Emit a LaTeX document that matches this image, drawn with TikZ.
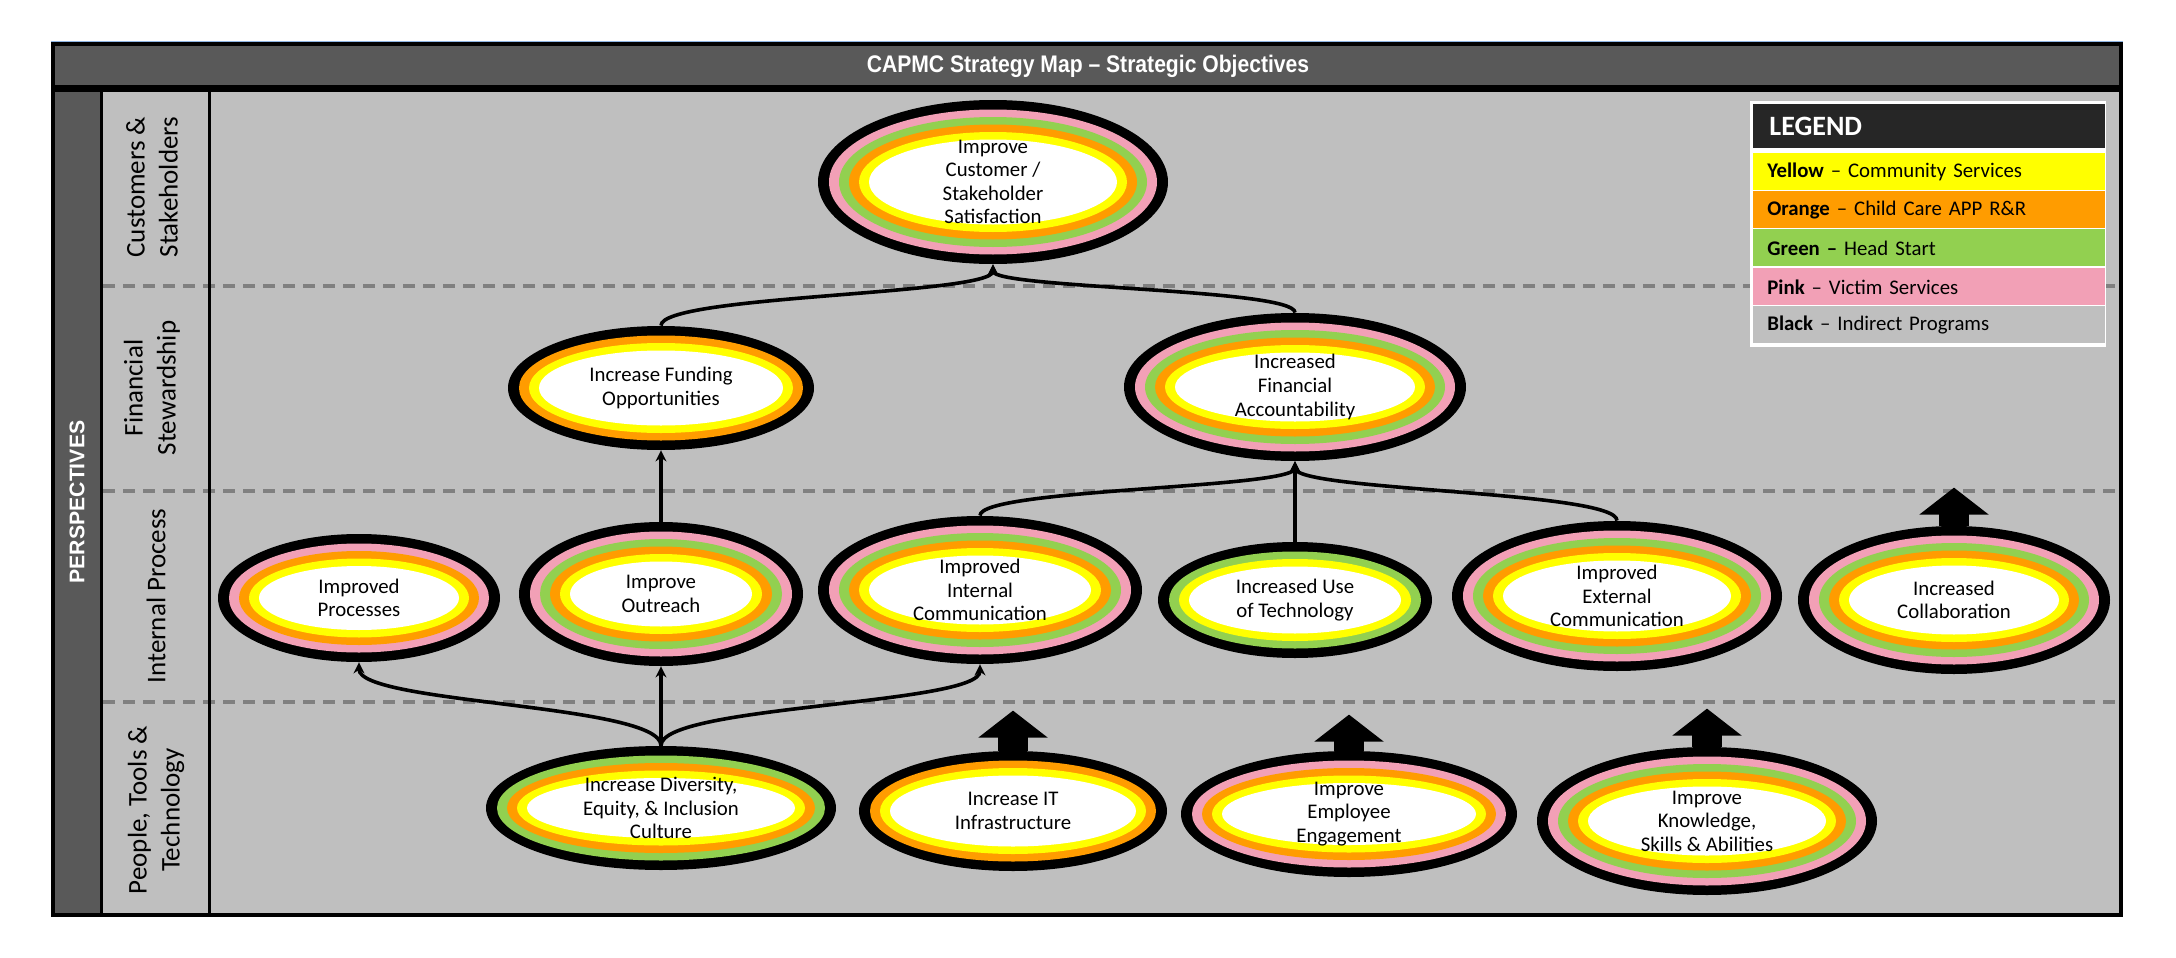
\documentclass[tikz,border=0pt]{standalone}
\usepackage{graphicx}
\usepackage{fontspec}
\setmainfont{Carlito}
\newfontfamily\legfont{Carlito}[WordSpace=0.7]
\newfontfamily\arialfont{Liberation Sans}
\usetikzlibrary{arrows.meta,calc,shapes.geometric}
\definecolor{pinkc}{HTML}{F2A0B6}
\definecolor{greenc}{HTML}{92D050}
\definecolor{orangec}{HTML}{FF9C00}
\definecolor{yellowc}{HTML}{FFFF00}
\definecolor{bodygray}{HTML}{BFBFBF}
\definecolor{barcol}{HTML}{595959}
\definecolor{legdark}{HTML}{262626}
\definecolor{dashcol}{HTML}{808080}
\definecolor{topblue}{HTML}{8DB3E2}

% #1 name, #2 cx, #3 cy, #4 rx, #5 ry, #6 ring colours (outer to inner), #7 text
\newcommand\objell[7]{%
  \fill[black] (#2,#3) ellipse [x radius=#4, y radius=#5];
  \foreach \ringc [count=\ri from 0] in {#6} {
    \fill[\ringc] (#2,#3) ellipse [x radius={#4-11-\ri*10}, y radius={#5-9.5-\ri*7.5}];
  }
  \node[objshape, minimum width=#4pt, minimum height=#5pt] (#1) at (#2,#3) {};
  \node[objtext] (#1-t) at (#2,#3) {#7};
}

\begin{document}
\begin{tikzpicture}[x=0.5pt,y=-0.5pt,
  objshape/.style={ellipse, inner sep=0pt, draw=none},
  objtext/.style={font=\fontsize{10.4}{11.8}\selectfont, align=center, inner sep=0pt},
  lanetext/.style={font=\fontsize{13.5}{16.5}\selectfont, align=center, rotate=90, inner sep=0pt},
  conn/.style={draw=black, line width=1.8pt, -{Stealth[length=5.5pt,width=5.5pt]}},
  bigarr/.style={draw=black, line width=15pt, -{Triangle[length=13.5pt,width=34pt]}},
  dashline/.style={draw=dashcol, line width=1.7pt, dash pattern=on 6pt off 4pt},
  legrow/.style={anchor=north west, minimum width=176pt, minimum height=18.5pt, inner xsep=7pt, inner ysep=0pt, text width=162pt, align=left, font=\legfont\fontsize{10.4}{12.5}\selectfont},
]
\useasboundingbox (0,0) rectangle (2176,958);

% frame
\fill[bodygray] (53,44) rectangle (2121,915);
\fill[barcol] (53,44) rectangle (2121,86);
\fill[barcol] (53,86) rectangle (101.5,915);
\draw[black, line width=3.5pt] (53,88.5) -- (2121,88.5);
\draw[dashline] (103,286) -- (2119,286);
\draw[dashline] (103,491) -- (2119,491);
\draw[dashline] (103,702) -- (2119,702);
\draw[black, line width=1.5pt] (101.5,90) -- (101.5,915);
\draw[black, line width=1.5pt] (209.5,90) -- (209.5,915);
\draw[black, line width=2pt] (53,44) rectangle (2121,915);
\draw[topblue, line width=0.6pt] (51,41.5) -- (2123,41.5);

% title and side labels
\node[font=\arialfont\bfseries\fontsize{12}{14}\selectfont, text=white, inner sep=0pt] (title) at (1088,66) {\scalebox{0.88}[1]{CAPMC Strategy Map – Strategic Objectives}};
\node[font=\arialfont\bfseries\fontsize{10.6}{12}\selectfont, text=white, rotate=90, inner sep=0pt] (persp) at (77,502) {PERSPECTIVES};
\node[lanetext] (lane1) at (152,187) {Customers \&\\Stakeholders};
\node[lanetext] (lane2) at (152,388) {Financial\\Stewardship};
\node[lanetext] (lane3) at (156,596) {Internal Process};
\node[lanetext] (lane4) at (156,810) {People, Tools \&\\Technology};

% objectives
\objell{top}{993}{182}{175}{82}{pinkc,greenc,orangec,yellowc,white}{Improve\\Customer /\\Stakeholder\\Satisfaction}
\objell{fund}{661}{388}{153}{62}{orangec,yellowc,white}{Increase Funding\\Opportunities}
\objell{finacc}{1295}{387}{171}{74}{pinkc,greenc,orangec,yellowc,white}{Increased\\Financial\\Accountability}
\objell{proc}{359}{598}{141}{64}{pinkc,orangec,yellowc,white}{Improved\\Processes}
\objell{outr}{661}{594}{142}{72}{pinkc,greenc,orangec,yellowc,white}{Improve\\Outreach}
\objell{intc}{980}{590}{162}{74}{pinkc,greenc,orangec,yellowc,white}{Improved\\Internal\\Communication}
\objell{tech}{1295}{600}{137}{58}{greenc,yellowc,white}{Increased Use\\of Technology}
\objell{extc}{1617}{596}{165}{75}{pinkc,greenc,orangec,yellowc,white}{Improved\\External\\Communication}
\objell{coll}{1954}{600}{156}{74}{pinkc,greenc,orangec,yellowc,white}{Increased\\Collaboration}
\objell{div}{661}{808}{175}{62}{greenc,orangec,yellowc,white}{Increase Diversity,\\Equity, \& Inclusion\\Culture}
\objell{it}{1013}{811}{154}{60}{orangec,yellowc,white}{Increase IT\\Infrastructure}
\objell{emp}{1349}{814}{168}{63}{pinkc,orangec,yellowc,white}{Improve\\Employee\\Engagement}
\objell{know}{1707}{821}{170}{74}{pinkc,greenc,orangec,yellowc,white}{Improve\\Knowledge,\\Skills \& Abilities}

% connectors
\coordinate (m1) at ($(div.north)!0.5!(proc.south)$);
\coordinate (m2) at ($(div.north)!0.5!(intc.south)$);
\coordinate (m3) at ($(fund.north)!0.5!(top.south)$);
\coordinate (m4) at ($(finacc.north)!0.5!(top.south)$);
\coordinate (m5) at ($(intc.north)!0.5!(finacc.south)$);
\coordinate (m6) at ($(extc.north)!0.5!(finacc.south)$);
\draw[conn] (div.north) .. controls (div.north |- m1) and (proc.south |- m1) .. (proc.south);
\draw[conn] (div.north) -- (outr.south);
\draw[conn] (div.north) .. controls (div.north |- m2) and (intc.south |- m2) .. (intc.south);
\draw[conn] (outr.north) -- (fund.south);
\draw[conn] (fund.north) .. controls (fund.north |- m3) and (top.south |- m3) .. (top.south);
\draw[conn] (finacc.north) .. controls (finacc.north |- m4) and (top.south |- m4) .. (top.south);
\draw[conn] (intc.north) .. controls (intc.north |- m5) and (finacc.south |- m5) .. (finacc.south);
\draw[conn] (tech.north) -- (finacc.south);
\draw[conn] (extc.north) .. controls (extc.north |- m6) and (finacc.south |- m6) .. (finacc.south);

% block arrows
\draw[bigarr] (it.north) -- ++(0,-40);
\draw[bigarr] (emp.north) -- ++(0,-36);
\draw[bigarr] (know.north) -- ++(0,-38);
\draw[bigarr] (coll.north) -- ++(0,-38);

% legend
\node[fill=white, minimum width=178pt, minimum height=123pt, anchor=north west, inner sep=0pt] (legbox) at (1750,101) {};
\node[anchor=north west, fill=legdark, minimum width=176pt, minimum height=22pt, inner xsep=8pt, inner ysep=0pt, text width=160pt, align=left, text=white, font=\bfseries\fontsize{14}{16}\selectfont] (leghead) at (1753,104) {LEGEND};
\node[legrow, fill=yellowc] (leg1) at (1753,153) {\textbf{Yellow} – Community Services};
\node[legrow, fill=orangec] (leg2) at (1753,191) {\textbf{Orange} – Child Care APP R\&R};
\node[legrow, fill=greenc] (leg3) at (1753,229) {\textbf{Green –} Head Start};
\node[legrow, fill=pinkc] (leg4) at (1753,268) {\textbf{Pink} – Victim Services};
\node[legrow, fill=bodygray] (leg5) at (1753,306) {\textbf{Black} – Indirect Programs};
\end{tikzpicture}
\end{document}
